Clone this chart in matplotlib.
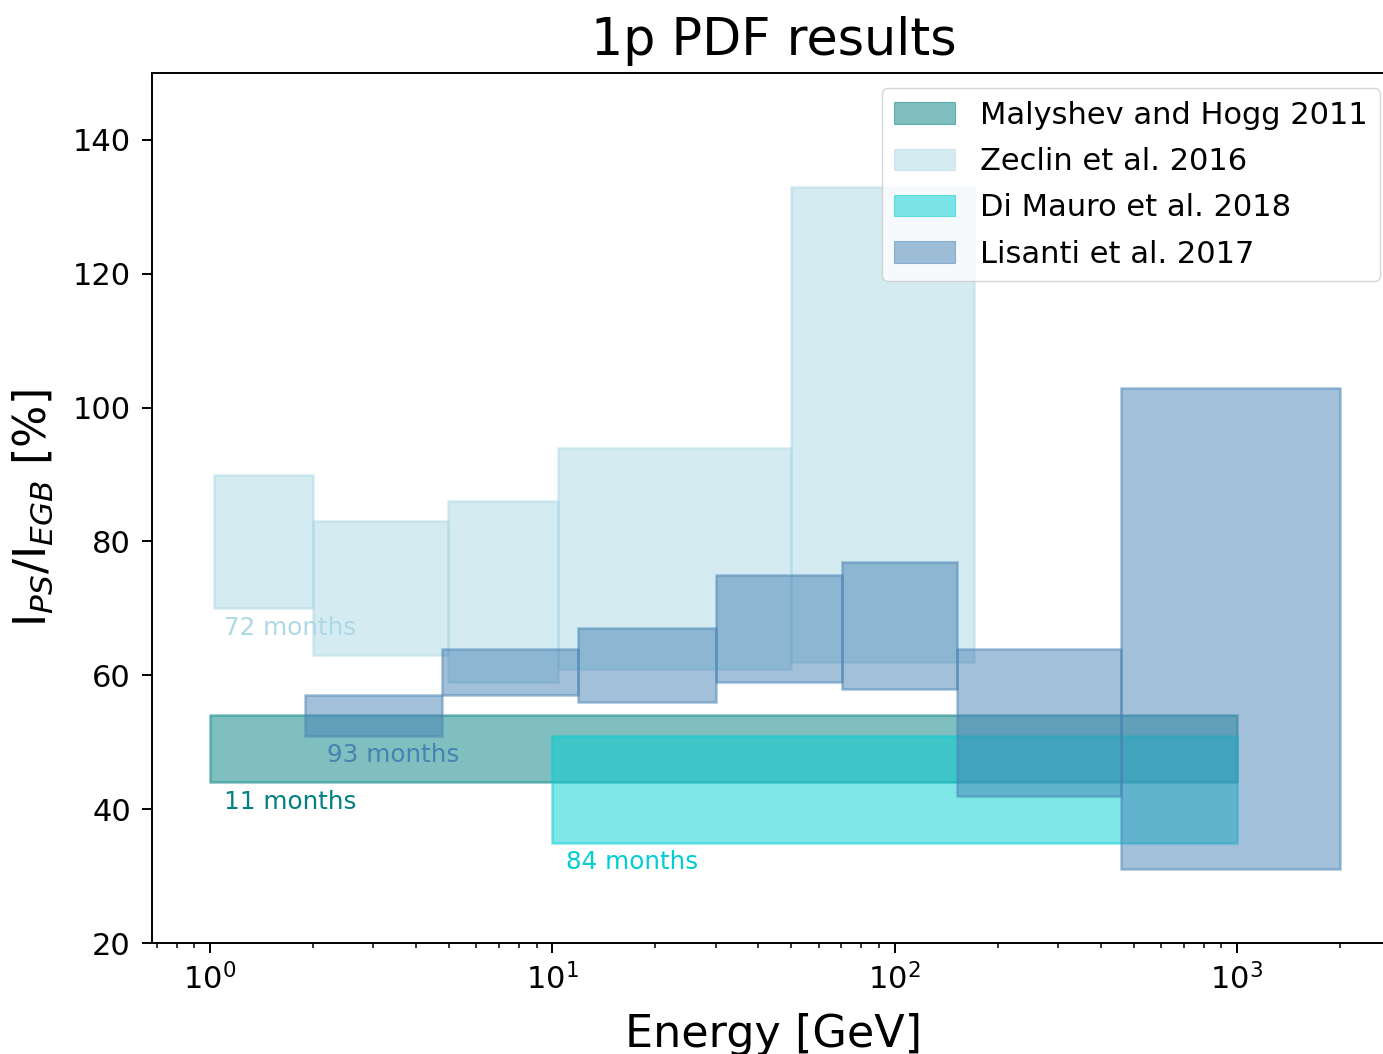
import numpy as np
import matplotlib
matplotlib.use("Agg")
import matplotlib.pyplot as plt

# energy bins [GeV] and point-source fraction ranges [%]
malyshev_bins = [1.0, 1000.0]
malyshev_range = [(44, 54)]

zeclin_bins = [1.03, 2.0, 4.97, 10.4, 50.0, 171.0]
zeclin_range = [(70, 90), (63, 83), (59, 86), (61, 94), (62, 133)]

dimauro_bins = [10.0, 1000.0]
dimauro_range = [(35, 51)]

lisanti_bins = [1.89, 4.75, 11.9, 30.0, 70.3, 152.0, 458.0, 2000.0]
lisanti_range = [(51, 57), (57, 64), (56, 67), (59, 75), (58, 77), (42, 64), (31, 103)]

datasets = [
    ("Malyshev and Hogg 2011", malyshev_bins, malyshev_range, "teal"),
    ("Zeclin et al. 2016", zeclin_bins, zeclin_range, "lightblue"),
    ("Di Mauro et al. 2018", dimauro_bins, dimauro_range, "darkturquoise"),
    ("Lisanti et al. 2017", lisanti_bins, lisanti_range, "steelblue"),
]

# (x, y, text, colour) for the observation-time notes
notes = [
    (1.1, 66, "72 months", "lightblue"),
    (2.2, 47, "93 months", "steelblue"),
    (1.1, 40, "11 months", "teal"),
    (11.0, 31, "84 months", "darkturquoise"),
]


def draw_boxes(ax, bins, ranges, color, label):
    bins = np.array(bins)
    lo = np.array([r[0] for r in ranges])
    hi = np.array([r[1] for r in ranges])
    ax.bar(bins[:-1], hi - lo, width=np.diff(bins), bottom=lo, align="edge",
           color=color, edgecolor=color, alpha=0.5, linewidth=1.8, label=label)


fig = plt.figure(figsize=(13.83, 10.54), dpi=100)
ax = fig.add_axes([0.1099, 0.1053, 0.8988, 0.8254])

for label, bins, ranges, color in datasets:
    draw_boxes(ax, bins, ranges, color, label)

for x, y, txt, color in notes:
    ax.text(x, y, txt, color=color, fontsize=17.7)

ax.set_xscale("log")
ax.set_xlim(0.677, 2900)
ax.set_ylim(20, 150)
ax.set_yticks(np.arange(20, 141, 20))

ax.set_title("1p PDF results", fontsize=36.5, pad=13)
ax.set_xlabel("Energy [GeV]", fontsize=32, labelpad=13)
ax.set_ylabel("I$_{PS}$/I$_{EGB}$ [%]", fontsize=32, labelpad=13)

ax.tick_params(which="major", labelsize=22, length=7.2, width=1.4)
ax.tick_params(axis="y", which="major", pad=8)
ax.tick_params(axis="x", which="major", pad=7)
ax.tick_params(which="minor", length=3.8, width=1.1)
for sp in ax.spines.values():
    sp.set_linewidth(1.4)

leg = ax.legend(loc="upper right", fontsize=22, labelspacing=0.57)
for h in leg.legend_handles:
    h.set_linewidth(0.8)

fig.savefig("out.png", dpi=100)
